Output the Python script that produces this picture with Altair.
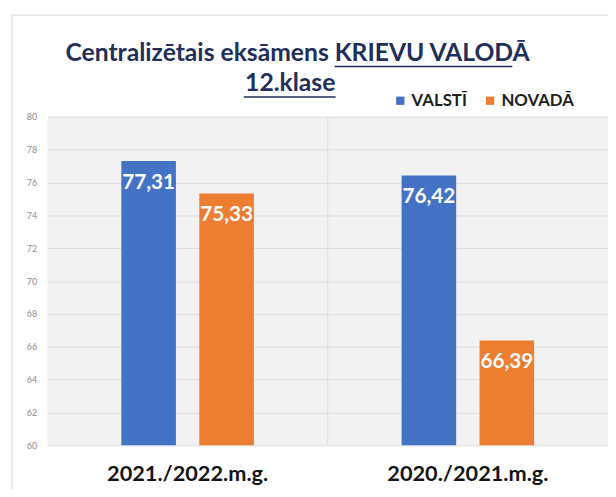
import altair as alt
import pandas as pd

# ---- data ----
years = ["2021./2022.m.g.", "2020./2021.m.g."]
series = ["VALSTĪ", "NOVADĀ"]
valsti = [77.31, 76.42]
novada = [75.33, 66.39]
y_ticks = [60, 62, 64, 66, 68, 70, 72, 74, 76, 78, 80]
title_a = "Centralizētais eksāmens"
title_b = "KRIEVU VALODĀ"
title_c = "12.klase"
colors = ["#4472C4", "#ED7D31"]

rows = []
for i, yr in enumerate(years):
    rows.append({"year": yr, "series": series[0], "value": valsti[i]})
    rows.append({"year": yr, "series": series[1], "value": novada[i]})
df = pd.DataFrame(rows)
df["label"] = df["value"].map(lambda v: f"{v:.2f}".replace(".", ","))

W, H = 568, 333
FONT = "Lato"
NAVY = "#1f2f5c"

y_axis = alt.Axis(
    values=y_ticks, tickCount=11, title=None, domain=False, ticks=False,
    labelFont=FONT, labelFontSize=9, labelColor="#8c8c8c", labelOverlap=False,
    labelPadding=11, gridColor="#dcdcdc", gridWidth=1,
)
y_scale = alt.Scale(domain=[60, 80], nice=False, zero=False)

base = alt.Chart(df).encode(
    x=alt.X(
        "year:N",
        sort=years,
        scale=alt.Scale(paddingInner=0.527, paddingOuter=0.2635),
        axis=alt.Axis(
            title=None, labelAngle=0, labelFont=FONT, labelFontWeight="bold",
            labelFontSize=22, labelColor="#141414", labelPadding=36,
            labelBaseline="alphabetic",
            domain=False, ticks=False, grid=False,
        ),
    ),
    xOffset=alt.XOffset("series:N", sort=series,
                        scale=alt.Scale(paddingInner=0.3, paddingOuter=0)),
)

bars = base.mark_bar().encode(
    y=alt.Y("value:Q", scale=y_scale, axis=y_axis),
    y2=alt.datum(60),
    color=alt.Color(
        "series:N",
        sort=series,
        scale=alt.Scale(domain=series, range=colors),
        legend=alt.Legend(
            title=None, orient="none", legendX=349, legendY=-25,
            direction="horizontal", symbolType="square", symbolSize=70,
            symbolStrokeWidth=0, labelFont=FONT, labelFontWeight="bold",
            labelFontSize=17, labelColor="#1e1e1e", columnPadding=14,
            labelOffset=3,
        ),
    ),
)

labels = base.mark_text(
    color="white", font=FONT, fontWeight="bold", fontSize=21,
    baseline="middle", dy=22,
).encode(y=alt.Y("value:Q", scale=y_scale, axis=y_axis), text="label:N")

one = pd.DataFrame({"a": [title_a], "b": [title_b], "c": [title_c]})

frame = alt.Chart(one).mark_rect(fillOpacity=0, stroke="#d4d4d4", strokeWidth=1).encode(
    x=alt.value(-36), x2=alt.value(W + 30), y=alt.value(-103), y2=alt.value(H + 80)
)

divider = alt.Chart(one).mark_rule(color="#dcdcdc", strokeWidth=1).encode(
    x=alt.value(W / 2), y=alt.value(0), y2=alt.value(H)
)

t_a = alt.Chart(one).mark_text(
    font=FONT, fontWeight="bold", fontSize=25, color=NAVY, align="right",
    baseline="alphabetic",
).encode(x=alt.value(285), y=alt.value(-56), text="a:N")
t_b = alt.Chart(one).mark_text(
    font=FONT, fontWeight="bold", fontSize=25, color=NAVY, align="left",
    baseline="alphabetic",
).encode(x=alt.value(291), y=alt.value(-56), text="b:N")
t_c = alt.Chart(one).mark_text(
    font=FONT, fontWeight="bold", fontSize=25, color=NAVY, align="center",
    baseline="alphabetic",
).encode(x=alt.value(246), y=alt.value(-26), text="c:N")

u_b = alt.Chart(one).mark_rule(color=NAVY, strokeWidth=1.5).encode(
    x=alt.value(291), x2=alt.value(471), y=alt.value(-51)
)
u_c = alt.Chart(one).mark_rule(color=NAVY, strokeWidth=1.5).encode(
    x=alt.value(199), x2=alt.value(292), y=alt.value(-20)
)

chart = alt.layer(
    frame, bars, divider, labels, t_a, t_b, t_c, u_b, u_c
).properties(
    width=W, height=H,
    padding={"left": 40, "top": 107, "right": 0, "bottom": 41},
    autosize=alt.AutoSizeParams(type="none"),
    background="white",
).configure_view(strokeWidth=0, fill="#f2f2f2")

chart.save("out.html", embed_options={"renderer": "svg", "actions": False})
